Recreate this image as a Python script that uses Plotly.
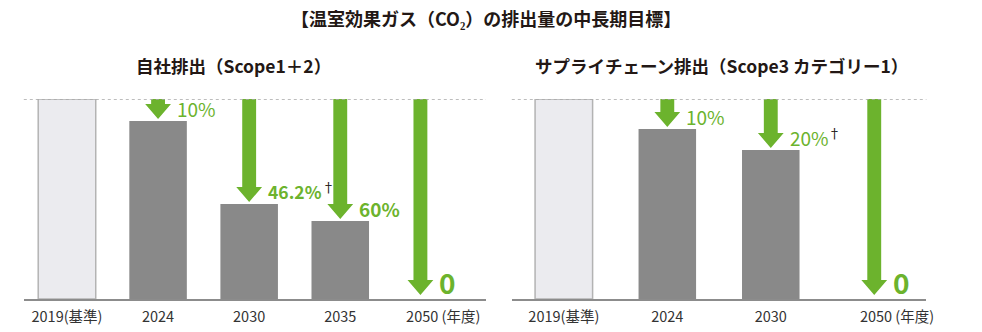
import plotly.graph_objects as go

# ---------------- data ----------------
main_title = "【温室効果ガス（CO₂）の排出量の中長期目標】"

left_title = "自社排出（Scope1＋2）"
left_categories = ["2019(基準)", "2024", "2030", "2035", "2050 (年度)"]
left_values = [100, 89, 47.5, 39, 0]          # relative emissions (2019 = 100)
left_labels = ["", "10%", "46.2%†", "60%", "0"]

right_title = "サプライチェーン排出（Scope3 カテゴリー1）"
right_categories = ["2019(基準)", "2024", "2030", "2050 (年度)"]
right_values = [100, 85, 74.5, 0]
right_labels = ["", "10%", "20%†", "0"]

# ---------------- style ----------------
FONT = "Noto Sans CJK JP"
GREEN = "#6cb32d"
BAR_GRAY = "#898989"
BASE_FILL = "#ebebef"
BASE_LINE = "#b3b3b3"
TEXT = "#231815"
W, H = 982, 332
TOP, BOTTOM = 99, 33            # plot area from y=99px to y=299px
PLOT_H = H - TOP - BOTTOM
BAR_PX = 58
SHAFT_PX = 14
HEAD_W_PX = 26
HEAD_H_PX = 15
LABEL_DX = 17


def est_width(s, size, bold):
    """rough text width estimate (px) for placing the dagger after a label"""
    dig = 0.6 if bold else 0.53
    pct = 0.9 if bold else 0.86
    w = 0.0
    for ch in s:
        if ch.isdigit():
            w += dig
        elif ch == "%":
            w += pct
        elif ch == ".":
            w += 0.27
        else:
            w += 0.5
    return w * size


panels = [
    dict(title=left_title, cats=left_categories, vals=left_values, labels=left_labels,
         dom_px=(24, 490), rng=(-0.474, 4.6), last_dx=-0.12, title_x=235,
         xa="x", ya="y"),
    dict(title=right_title, cats=right_categories, vals=right_values, labels=right_labels,
         dom_px=(516, 934), rng=(-0.503, 3.504), last_dx=0.0, title_x=727,
         xa="x2", ya="y2"),
]

fig = go.Figure()
annotations = []
shapes = []
unit_px_y = PLOT_H / 100.0

for k, p in enumerate(panels):
    n = len(p["cats"])
    px_per_unit = (p["dom_px"][1] - p["dom_px"][0]) / (p["rng"][1] - p["rng"][0])
    xs = [float(i) for i in range(n)]
    xs[-1] += p["last_dx"]
    bw = BAR_PX / px_per_unit

    # baseline bar (2019)
    fig.add_trace(go.Bar(x=[xs[0]], y=[p["vals"][0]], width=bw,
                         marker=dict(color=BASE_FILL, line=dict(color=BASE_LINE, width=1.5)),
                         xaxis=p["xa"], yaxis=p["ya"], hoverinfo="skip"))
    # target bars
    bx = [xs[i] for i in range(1, n) if p["vals"][i] > 0]
    by = [p["vals"][i] for i in range(1, n) if p["vals"][i] > 0]
    fig.add_trace(go.Bar(x=bx, y=by, width=bw, marker=dict(color=BAR_GRAY, line=dict(width=0)),
                         xaxis=p["xa"], yaxis=p["ya"], hoverinfo="skip"))

    # arrows
    sw = SHAFT_PX / 2 / px_per_unit
    hw = HEAD_W_PX / 2 / px_per_unit
    hh = HEAD_H_PX / unit_px_y
    for i in range(1, n):
        v = p["vals"][i]
        c = xs[i]
        gap = (4 if v == 0 else 2) / unit_px_y
        tip = v + gap
        hb = tip + hh
        ax = [c - sw, c + sw, c + sw, c + hw, c, c - hw, c - sw, c - sw]
        ay = [100, 100, hb, hb, tip, hb, hb, 100]
        fig.add_trace(go.Scatter(x=ax, y=ay, mode="lines", fill="toself", fillcolor=GREEN,
                                 line=dict(width=0, color=GREEN), xaxis=p["xa"], yaxis=p["ya"],
                                 hoverinfo="skip"))
        lab = p["labels"][i]
        if lab:
            big = lab == "0"
            bold = lab not in ("10%", "20%†")
            main = lab.replace("†", "")
            if big:
                size = 28
            elif bold:
                size = 17.5 if len(main) > 4 else 19
            else:
                size = 19
            annotations.append(dict(
                x=c, y=tip + hh / 2, xref=p["xa"], yref=p["ya"], text=main,
                showarrow=False, xanchor="left", yanchor="middle",
                xshift=LABEL_DX, yshift=(6 if big else 3),
                font=dict(family=FONT, size=size, color=GREEN, weight=700 if bold else 400)))
            if "†" in lab:
                annotations.append(dict(
                    x=c, y=tip + hh / 2, xref=p["xa"], yref=p["ya"], text="†",
                    showarrow=False, xanchor="left", yanchor="middle",
                    xshift=LABEL_DX + est_width(main, size, bold) + 2, yshift=8,
                    font=dict(family=FONT, size=13, color=TEXT, weight=400)))

    # dotted reference line at 100
    shapes.append(dict(type="line", xref=f"{p['xa']} domain", yref=p["ya"], x0=0, x1=1,
                       y0=100, y1=100, line=dict(color="#a8a8a8", width=1.5, dash="dot"),
                       layer="above"))

    # panel title
    annotations.append(dict(x=p["title_x"] / W, y=(H - BOTTOM - 65) / PLOT_H,
                            xref="paper", yref="paper", text=p["title"], showarrow=False,
                            xanchor="center", yanchor="middle",
                            font=dict(family=FONT, size=17.5, color=TEXT, weight=700)))

    # axes
    tickvals = list(xs)
    tickvals[-1] += 23 / px_per_unit
    axis_common = dict(domain=[p["dom_px"][0] / W, p["dom_px"][1] / W], range=list(p["rng"]),
                       tickvals=tickvals, ticktext=p["cats"], ticks="", showgrid=False,
                       zeroline=False, showline=True, linecolor="#8c8c8c", linewidth=2,
                       tickfont=dict(family=FONT, size=14.5, color="#333333"),
                       ticklabelstandoff=4, fixedrange=True)
    yaxis_common = dict(range=[0, 100], visible=False, showgrid=False, zeroline=False,
                        fixedrange=True)
    if k == 0:
        fig.update_layout(xaxis=axis_common, yaxis=yaxis_common)
    else:
        fig.update_layout(xaxis2=dict(axis_common, anchor="y2"),
                          yaxis2=dict(yaxis_common, anchor="x2"))

annotations.append(dict(x=489.5 / W, y=(H - BOTTOM - 18) / PLOT_H, xref="paper", yref="paper",
                        text=main_title, showarrow=False, xanchor="center", yanchor="middle",
                        font=dict(family=FONT, size=18, color=TEXT, weight=700)))

fig.update_layout(width=W, height=H, autosize=False,
                  margin=dict(l=0, r=0, t=TOP, b=BOTTOM, pad=0),
                  paper_bgcolor="white", plot_bgcolor="white", showlegend=False,
                  barmode="overlay", annotations=annotations, shapes=shapes,
                  font=dict(family=FONT))

fig.write_html("out.html")
